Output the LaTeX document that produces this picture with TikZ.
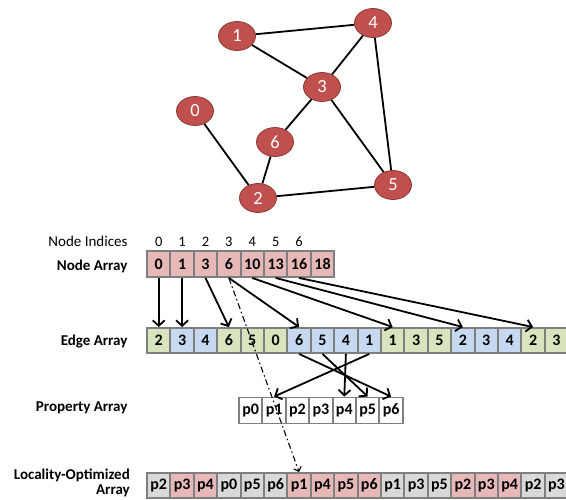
\documentclass[tikz,border=0pt]{standalone}
\usepackage{fontspec}
\setmainfont{Carlito}
\usetikzlibrary{arrows.meta,shapes.geometric}
\definecolor{vertexfill}{HTML}{C0504D}
\definecolor{vertexline}{HTML}{8C3836}
\definecolor{cellpink}{HTML}{E6B9B8}
\definecolor{cellgreen}{HTML}{D7E4BD}
\definecolor{cellblue}{HTML}{C6D9F1}
\definecolor{cellgray}{HTML}{D9D9D9}
\definecolor{cellline}{HTML}{7F7F7F}
\begin{document}
\begin{tikzpicture}[x=1pt,y=-1pt,
  vertex/.style={ellipse, fill=vertexfill, draw=vertexline, line width=0.8pt,
    minimum width=37pt, minimum height=29pt, inner sep=0pt, text=white,
    font=\fontsize{18.5}{18.5}\selectfont},
  link/.style={line width=1.8pt, black},
  cell/.style={rectangle, draw=cellline, line width=1.9pt, minimum width=23.4pt,
    minimum height=26pt, inner sep=0pt, font=\fontsize{16}{16}\selectfont\bfseries},
  ptr/.style={line width=1.8pt, -{Straight Barb[length=5.5pt,width=12pt]}},
  rowlabel/.style={anchor=east, font=\fontsize{15}{15}\selectfont\bfseries, align=right},
  idx/.style={font=\fontsize{14.5}{14.5}\selectfont, inner sep=0pt},
  trace/.style={line width=1.1pt, dash pattern=on 6pt off 3pt on 1.5pt off 3pt,
    -{Straight Barb[length=4pt,width=8pt]}}
]
\useasboundingbox (0,0) rectangle (566,499);

% graph
\node[vertex] (v1) at (237,36) {1};
\node[vertex] (v4) at (373,23) {4};
\node[vertex] (v3) at (322,87) {3};
\node[vertex] (v0) at (195,111) {0};
\node[vertex] (v6) at (275,142) {6};
\node[vertex] (v2) at (258,198) {2};
\node[vertex] (v5) at (393,185) {5};
\draw[link] (v1) -- (v4);
\draw[link] (v1) -- (v3);
\draw[link] (v4) -- (v3);
\draw[link] (v4) -- (v5);
\draw[link] (v3) -- (v6);
\draw[link] (v3) -- (v5);
\draw[link] (v0) -- (v2);
\draw[link] (v6) -- (v2);
\draw[link] (v2) -- (v5);

% row labels
\node[anchor=east, font=\fontsize{15}{15.5}\selectfont] (lidx) at (131,241) {Node Indices};
\node[rowlabel] (lnode) at (131,266) {Node Array};
\node[rowlabel] (ledge) at (131,342) {Edge Array};
\node[rowlabel] (lprop) at (131,408) {Property Array};
\node[rowlabel, inner sep=1pt] (lloc) at (131,482.5) {Locality-Optimized\\Array};

% node array with indices
\foreach \v [count=\i from 0] in {0,1,3,6,10,13,16,18}
  \node[cell, fill=cellpink] (n\i) at ({147+23.4*(\i+0.5)},264) {\v};
\foreach \i in {0,...,6}
  \node[idx] (k\i) at ({147+23.4*(\i+0.5)},242) {\i};

% edge array
\foreach \v/\c [count=\i from 0] in {2/cellgreen,3/cellblue,4/cellblue,6/cellgreen,
    5/cellgreen,0/cellgreen,6/cellblue,5/cellblue,4/cellblue,1/cellblue,
    1/cellgreen,3/cellgreen,5/cellgreen,2/cellblue,3/cellblue,4/cellblue,
    2/cellgreen,3/cellgreen}
  \node[cell, fill=\c, minimum height=25pt] (e\i) at ({147+23.4*(\i+0.5)},340.5) {\v};

% property array
\foreach \i in {0,...,6}
  \node[cell, fill=white] (p\i) at ({239+23.4*(\i+0.5)},410.5) {p\i};

% locality-optimized array
\foreach \v/\c [count=\i from 0] in {p2/cellgray,p3/cellpink,p4/cellpink,p0/cellgray,
    p5/cellgray,p6/cellgray,p1/cellpink,p4/cellpink,p5/cellpink,p6/cellpink,
    p1/cellgray,p3/cellgray,p5/cellgray,p2/cellpink,p3/cellpink,p4/cellpink,
    p2/cellgray,p3/cellgray}
  \node[cell, fill=\c, minimum height=25pt] (l\i) at ({147+23.4*(\i+0.5)},485.5) {\v};

% node array -> edge array
\draw[ptr] (n0.south) -- (e0.north);
\draw[ptr] (n1.south) -- (e1.north);
\draw[ptr] (n2.south) -- (e3.north);
\draw[ptr] (n3.south) -- (e6.north);
\draw[ptr] (n4.south) -- (e10.north);
\draw[ptr] (n5.south) -- (e13.north);
\draw[ptr] (n6.south) -- (e16.north);

% edge array -> property array
\draw[ptr] (e6.south) -- (p6.north);
\draw[ptr] (e7.south) -- (p5.north);
\draw[ptr] (e8.south) -- (p4.north);
\draw[ptr] (e9.south) -- (p1.north);

% direct lookup into the reordered array
\draw[trace] (n3.south) -- (l6.north);
\end{tikzpicture}
\end{document}
